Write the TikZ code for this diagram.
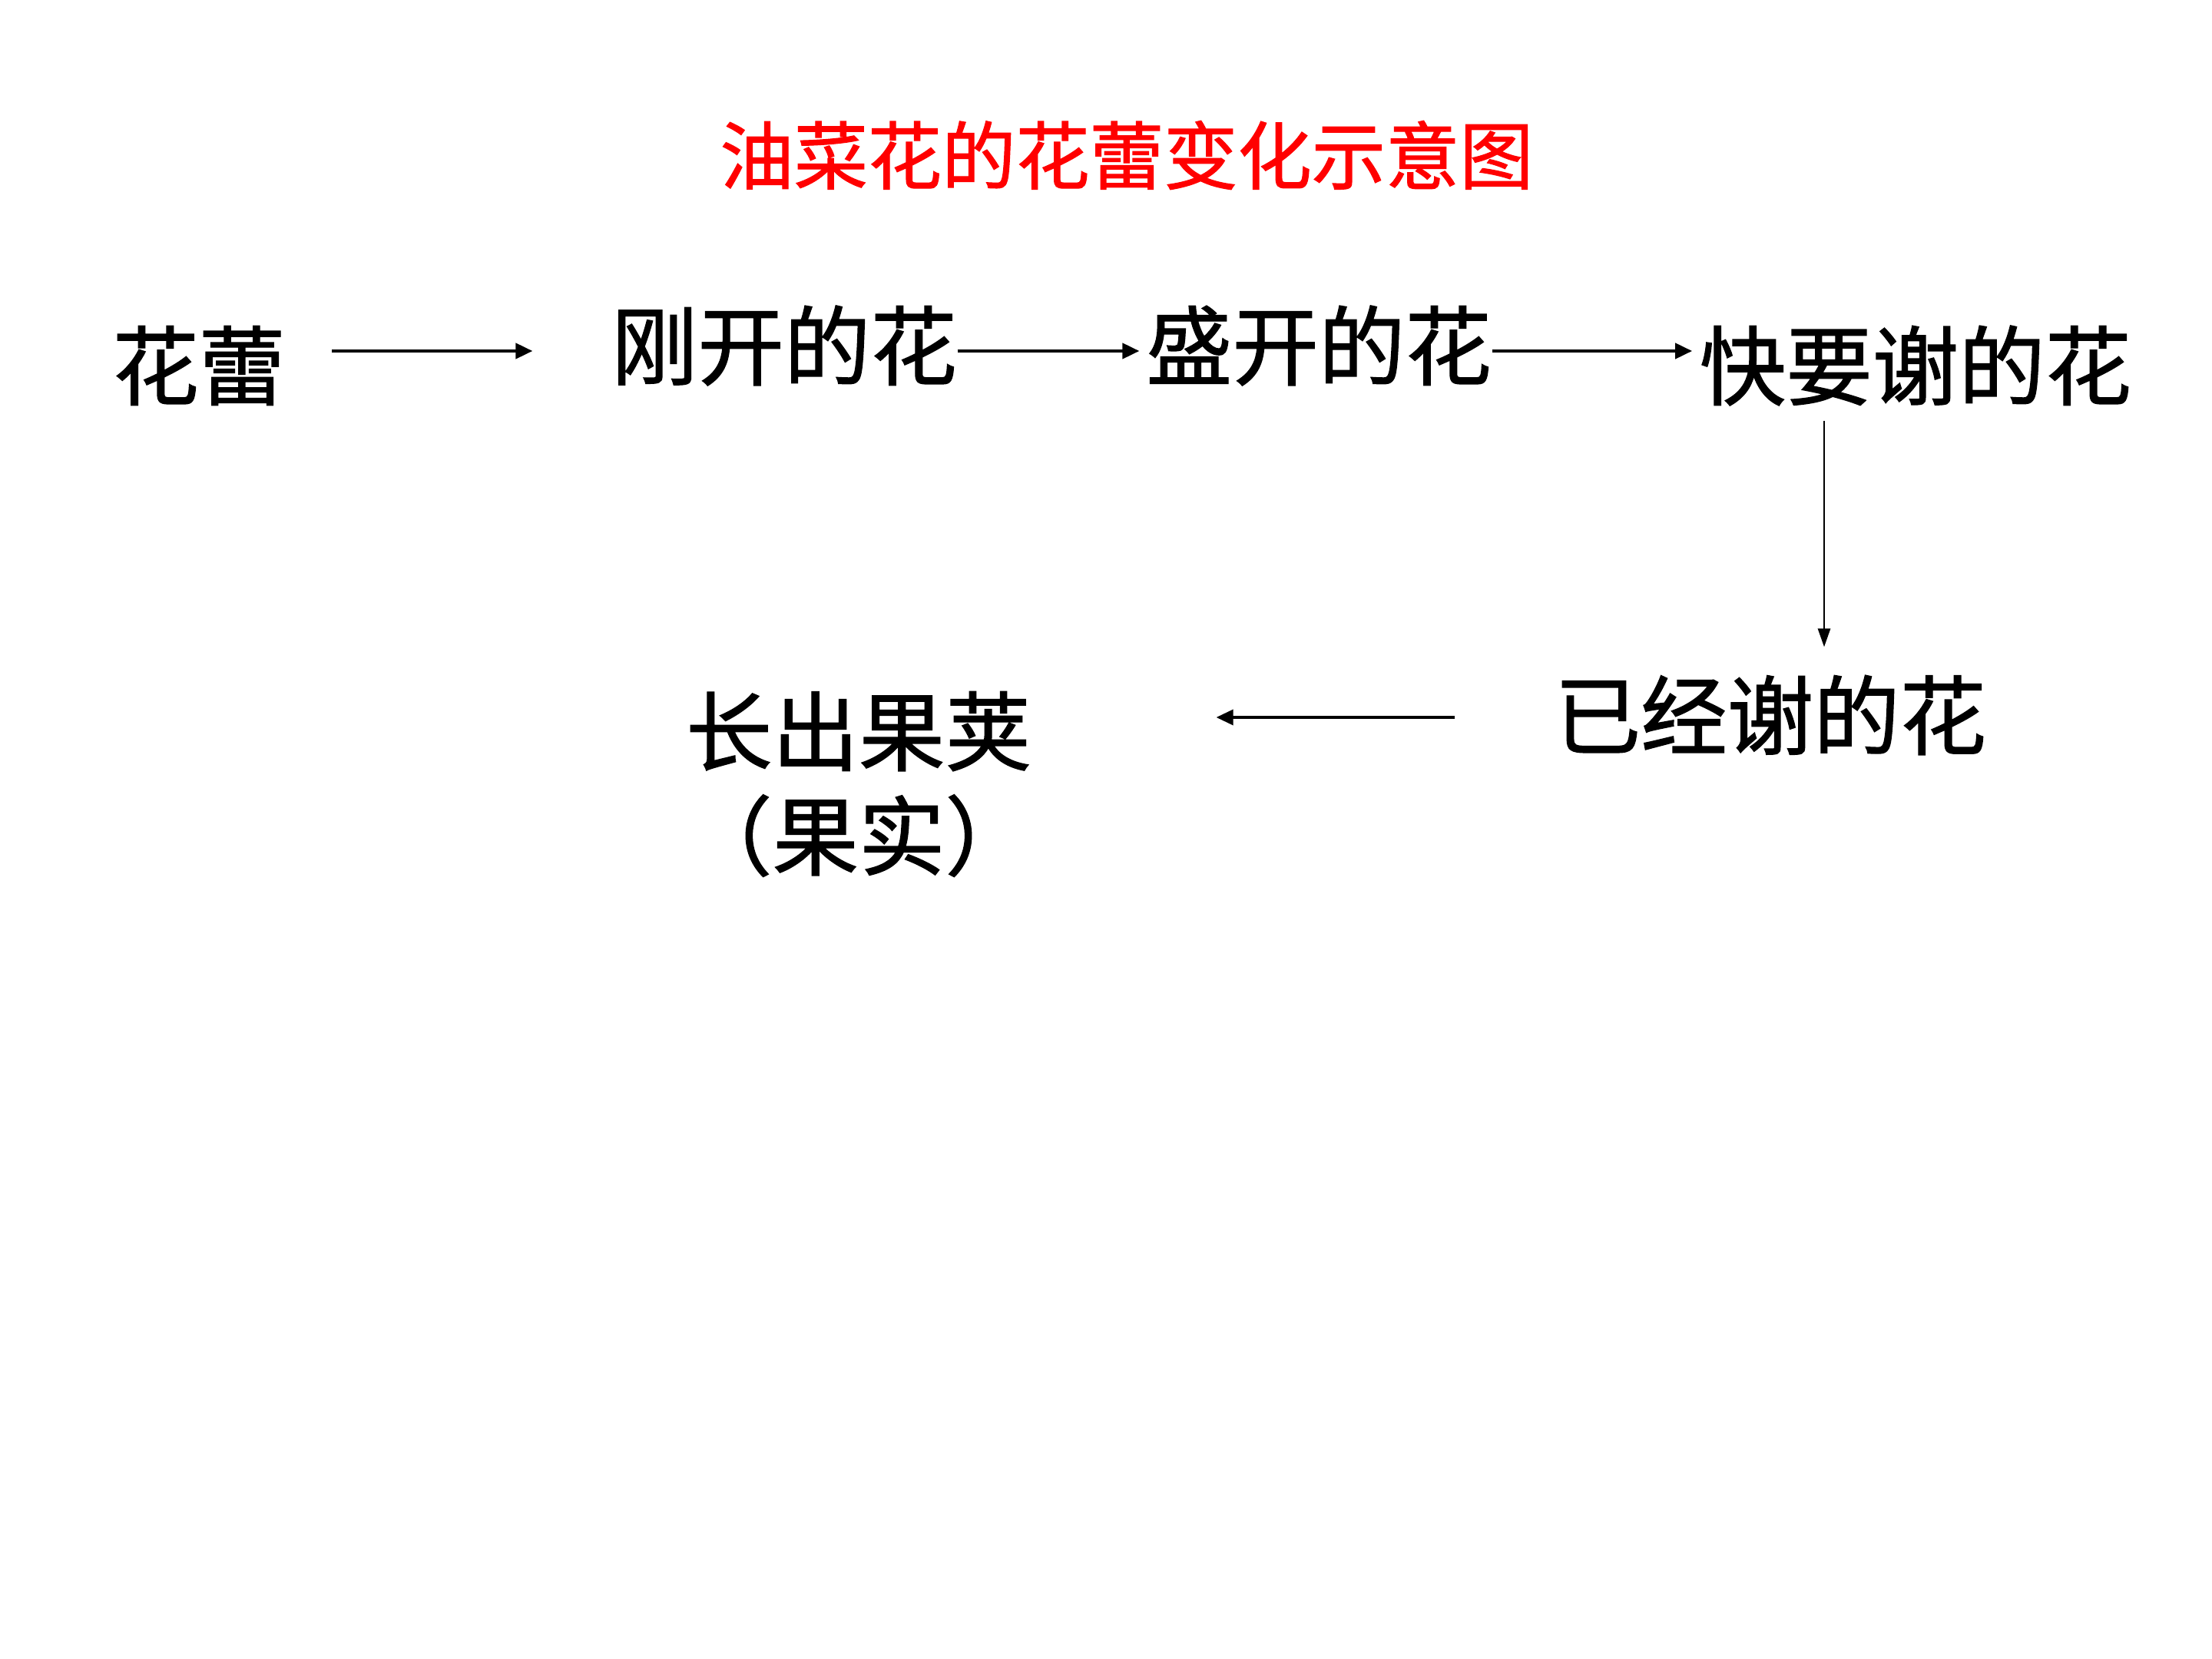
\documentclass[tikz,border=0pt]{standalone}
\usepackage{fontspec}
\usepackage{tikz}
\usetikzlibrary{positioning,arrows.meta,calc}
\newfontfamily\cjk[FakeBold=1.2]{Noto Sans CJK SC}
\definecolor{TitleRed}{RGB}{255,0,0}

\begin{document}
\begin{tikzpicture}[
    stage/.style={font=\cjk\fontsize{32}{38.7}\selectfont,inner sep=0pt,align=center},
    heading/.style={font=\cjk\fontsize{27.4}{33}\selectfont,inner sep=0pt,text=TitleRed},
    arrow/.style={line width=1.2pt,-{Triangle[length=0.22cm,width=0.2cm]}},
    thinarrow/.style={line width=0.8pt,-{Triangle[length=0.24cm,width=0.16cm]}}
]
\useasboundingbox (0,0) rectangle (28.8,-21.6);

\node[heading] (title) at (14.67,-2.02) {油菜花的花蕾变化示意图};

\node[stage] (bud) at (2.59,-4.76) {花蕾};
\node[stage] (open) at (10.21,-4.50) {刚开的花};
\node[stage] (bloom) at (17.17,-4.50) {盛开的花};
\node[stage] (fading) at (24.94,-4.76) {快要谢的花};
\node[stage] (faded) at (23.05,-9.31) {已经谢的花};
\node[stage] (pod) at (11.18,-10.21) {长出果荚\\（果实）};

\draw[arrow,shorten <=0.60cm,shorten >=1.02cm] ([yshift=-0.07cm]bud.east |- open.west) -- ([yshift=-0.07cm]open.west);
\draw[arrow,shorten >=0.08cm] ([yshift=-0.07cm]open.east) -- ([yshift=-0.07cm]bloom.west);
\draw[arrow,shorten >=0.09cm] ([yshift=-0.07cm]bloom.east) -- ([yshift=-0.07cm]bloom.east -| fading.west);
\draw[thinarrow,shorten <=0.19cm,shorten >=0.36cm] ([xshift=-1.19cm]fading.south) -- ([xshift=-1.19cm]fading.south |- faded.north);
\draw[arrow,line width=1pt,shorten <=1.29cm,shorten >=2.40cm] ([yshift=-0.03cm]faded.west) -- ([yshift=-0.03cm]faded.west -| pod.east);
\end{tikzpicture}
\end{document}
